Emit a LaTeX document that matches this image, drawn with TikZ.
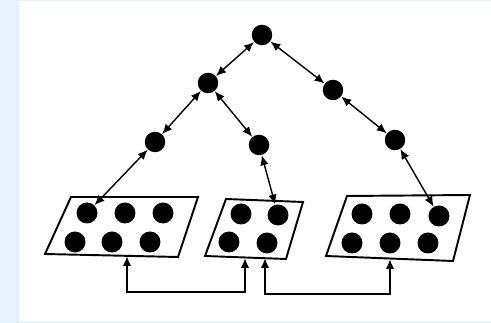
\documentclass[tikz,border=0pt]{standalone}
\usepackage{tikz}
\usetikzlibrary{arrows.meta,calc}

\definecolor{paleblue}{HTML}{E3F2FD}

\begin{document}
\begin{tikzpicture}[
	x=0.02cm, y=-0.02cm,
	hub/.style={circle, fill=black, minimum size=0.41cm, inner sep=0pt},
	dot/.style={circle, fill=black, minimum size=0.42cm, inner sep=0pt},
	panel/.style={draw, line width=1.1pt, line join=miter},
	arr/.style={{Latex[length=2.0mm,width=1.7mm]}-{Latex[length=2.0mm,width=1.7mm]}, line width=0.8pt},
	link/.style={{Latex[length=2.0mm,width=1.7mm]}-{Latex[length=2.0mm,width=1.7mm]}, line width=1.1pt}
	]
	% background
	\fill[paleblue] (0,0) rectangle (491,323);
	\fill[white] (19,1) rectangle (491,321);
	\useasboundingbox (0,0) rectangle (491,323);
	
	% tree
	\node[hub] (root) at (262,35) {};
	\node[hub] (a) at (208,83) {};
	\node[hub] (b) at (333,90) {};
	\node[hub] (c) at (155,142) {};
	\node[hub] (d) at (259,145) {};
	\node[hub] (e) at (395,140) {};
	
	% panels
	\draw[panel] (71,197) -- (198,197) -- (178,257) -- (45,254) -- cycle;
	\draw[panel] (226,199) -- (303,202) -- (286,259) -- (205,256) -- cycle;
	\draw[panel] (347,196) -- (470,195) -- (453,261) -- (326,256) -- cycle;
	
	\node[dot] (p1a) at (87,213) {};
	\node[dot] (p1b) at (125,213) {};
	\node[dot] (p1c) at (163,213) {};
	\node[dot] (p1d) at (75,242) {};
	\node[dot] (p1e) at (112,242) {};
	\node[dot] (p1f) at (150,242) {};
	
	\node[dot] (p2a) at (241,214) {};
	\node[dot] (p2b) at (278,215) {};
	\node[dot] (p2c) at (229,242) {};
	\node[dot] (p2d) at (267,243) {};
	
	\node[dot] (p3a) at (362,214) {};
	\node[dot] (p3b) at (400,214) {};
	\node[dot] (p3c) at (439,216) {};
	\node[dot] (p3d) at (352,243) {};
	\node[dot] (p3e) at (390,243) {};
	\node[dot] (p3f) at (428,243) {};
	
	\draw[arr] (root) -- (a);
	\draw[arr] (root) -- (b);
	\draw[arr] (a) -- (c);
	\draw[arr] (a) -- (d);
	\draw[arr] (b) -- (e);
	\draw[arr] (c) -- (p1a);
	\draw[arr] (d) -- (p2b);
	\draw[arr] (e) -- (p3c);
	
	% bottom links
	\coordinate (b1) at (127,256);
	\coordinate (b2) at (245,258);
	\coordinate (b3) at (265,258);
	\coordinate (b4) at (390,259);
	\draw[link] (b1) |- ($(b2)+(0,34)$) -- (b2);
	\draw[link] (b3) |- ($(b4)+(0,35)$) -- (b4);
	
\end{tikzpicture}
\end{document}
